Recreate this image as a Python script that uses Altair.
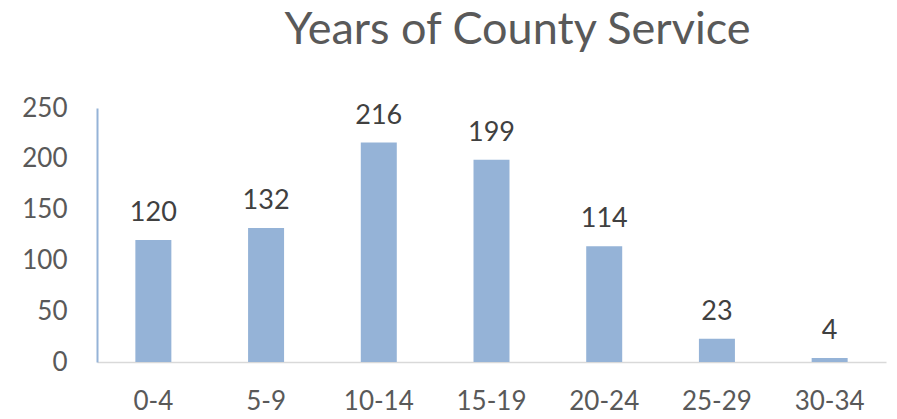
import altair as alt
import pandas as pd

categories = ["0-4", "5-9", "10-14", "15-19", "20-24", "25-29", "30-34"]
values = [120, 132, 216, 199, 114, 23, 4]

df = pd.DataFrame({"cat": categories, "val": values})

FONT = "Lato"
base = alt.Chart(df).encode(
    x=alt.X("cat:N", sort=categories, title=None,
            axis=alt.Axis(labelAngle=0, labelFontSize=26, labelColor="#595959",
                          labelFont=FONT, labelPadding=26, ticks=False,
                          domainColor="#D9D9D9", domainWidth=1.5)),
    y=alt.Y("val:Q", title=None,
            scale=alt.Scale(domain=[0, 250]),
            axis=alt.Axis(values=[0, 50, 100, 150, 200, 250], labelFontSize=26,
                          labelColor="#595959", labelFont=FONT, labelPadding=30,
                          ticks=False, grid=False, domainColor="#95B3D7",
                          domainWidth=2)),
)

bars = base.mark_bar(size=36, color="#95B3D7")
labels = base.mark_text(fontSize=27, font=FONT, color="#404040", dy=-19,
                        baseline="alphabetic").encode(text="val:Q")

chart = (bars + labels).properties(
    width=789, height=254,
    title=alt.TitleParams("Years of County Service", fontSize=45, font=FONT,
                          color="#595959", fontWeight="normal", anchor="middle",
                          dx=26, offset=42),
    autosize="none",
    padding={"left": 89, "top": 100, "right": 2, "bottom": 56},
).configure_view(stroke=None)

chart.save("out.html", embed_options={"renderer": "svg", "actions": False})
